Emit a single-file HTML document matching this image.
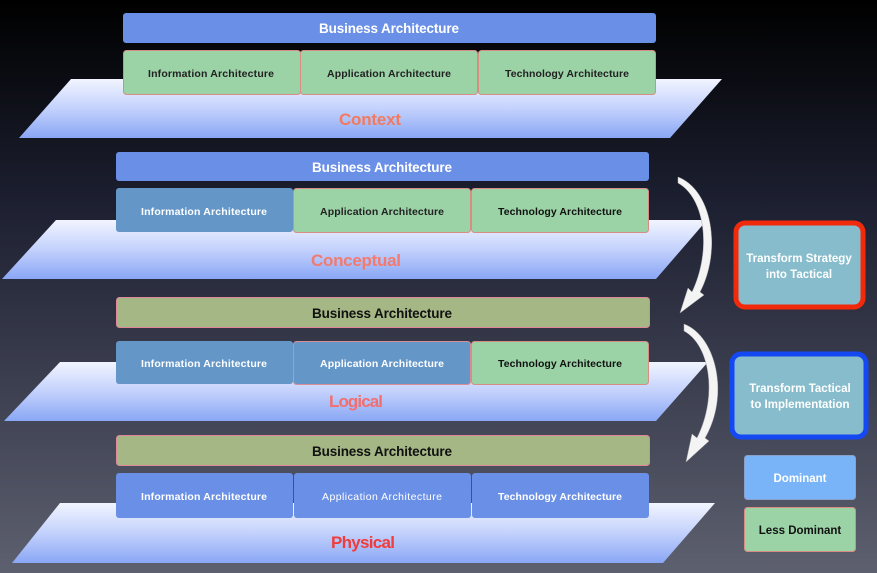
<!DOCTYPE html>
<html><head><meta charset="utf-8"><style>
html,body{margin:0;padding:0;width:877px;height:573px;overflow:hidden}
svg{display:block}
text{font-family:"Liberation Sans",sans-serif;font-weight:bold}
</style></head><body>
<svg width="877" height="573" viewBox="0 0 877 573" xmlns="http://www.w3.org/2000/svg">
<defs>
<linearGradient id="bg" x1="0" y1="0" x2="0" y2="1">
<stop offset="0" stop-color="#000000"/><stop offset="0.35" stop-color="#1c1f30"/><stop offset="1" stop-color="#5d606f"/>
</linearGradient>
<linearGradient id="pl" x1="0" y1="0" x2="0" y2="1">
<stop offset="0" stop-color="#f2f5ff"/><stop offset="0.5" stop-color="#c3d1fc"/><stop offset="1" stop-color="#8aa7f5"/>
</linearGradient>
</defs>
<rect width="877" height="573" fill="url(#bg)"/>

<!-- planes -->
<polygon points="71,79 722,79 670,138 19,138" fill="url(#pl)"/>
<polygon points="56,220 707,220 656,279 2,279" fill="url(#pl)"/>
<polygon points="60,362 708,362 656,421 4,421" fill="url(#pl)"/>
<polygon points="60,503 715,503 663,563 12,563" fill="url(#pl)"/>

<!-- Layer 1 -->
<rect x="123" y="13" width="533" height="30" rx="3" fill="#6a8fe6"/>
<text x="389" y="33" font-size="13.5" fill="#fff" text-anchor="middle" textLength="140">Business Architecture</text>
<rect x="123.5" y="50.5" width="177" height="44" rx="3" fill="#9bd2a6" stroke="#d88d84"/>
<rect x="300.5" y="50.5" width="177" height="44" rx="3" fill="#9bd2a6" stroke="#d88d84"/>
<rect x="478.5" y="50.5" width="177" height="44" rx="3" fill="#9bd2a6" stroke="#d88d84"/>
<text x="211" y="77" font-size="10.5" fill="#222" text-anchor="middle" textLength="126">Information Architecture</text>
<text x="389" y="77" font-size="10.5" fill="#222" text-anchor="middle" textLength="124">Application Architecture</text>
<text x="567" y="77" font-size="10.5" fill="#222" text-anchor="middle" textLength="124">Technology Architecture</text>
<text x="370" y="125" font-size="17" fill="#f27a5e" text-anchor="middle" textLength="62">Context</text>

<!-- Layer 2 -->
<rect x="116" y="152" width="533" height="29" rx="3" fill="#6a8fe6"/>
<text x="382" y="172" font-size="13.5" fill="#fff" text-anchor="middle" textLength="140">Business Architecture</text>
<rect x="116" y="188" width="177" height="44" rx="3" fill="#6497c8"/>
<rect x="293.5" y="188.5" width="177" height="44" rx="3" fill="#9bd2a6" stroke="#d88d84"/>
<rect x="471.5" y="188.5" width="177" height="44" rx="3" fill="#9bd2a6" stroke="#d88d84"/>
<text x="204" y="215" font-size="10.5" fill="#fff" text-anchor="middle" textLength="126">Information Architecture</text>
<text x="382" y="215" font-size="10.5" fill="#222" text-anchor="middle" textLength="124">Application Architecture</text>
<text x="560" y="215" font-size="10.5" fill="#111" text-anchor="middle" textLength="124">Technology Architecture</text>
<text x="356" y="266" font-size="17" fill="#f27a6e" text-anchor="middle" textLength="90">Conceptual</text>

<!-- Layer 3 -->
<rect x="116.5" y="297.5" width="533" height="30" rx="3" fill="#a4b784" stroke="#e0889a"/>
<text x="382" y="318" font-size="13.5" fill="#111" text-anchor="middle" textLength="140">Business Architecture</text>
<rect x="116" y="341" width="177" height="43" rx="3" fill="#6497c8"/>
<rect x="293.5" y="341.5" width="177" height="43" rx="3" fill="#6497c8" stroke="#d88d94"/>
<rect x="471.5" y="341.5" width="177" height="43" rx="3" fill="#9bd2a6" stroke="#d88d84"/>
<text x="204" y="367" font-size="10.5" fill="#fff" text-anchor="middle" textLength="126">Information Architecture</text>
<text x="382" y="367" font-size="10.5" fill="#fff" text-anchor="middle" textLength="124">Application Architecture</text>
<text x="560" y="367" font-size="10.5" fill="#111" text-anchor="middle" textLength="124">Technology Architecture</text>
<text x="356" y="407" font-size="17" fill="#f26f6e" text-anchor="middle" textLength="54">Logical</text>

<!-- Layer 4 -->
<rect x="116.5" y="435.5" width="533" height="30" rx="3" fill="#a4b784" stroke="#e0889a"/>
<text x="382" y="456" font-size="13.5" fill="#111" text-anchor="middle" textLength="140">Business Architecture</text>
<rect x="116" y="473" width="177" height="45" rx="3" fill="#6a8fe6"/>
<rect x="294" y="473" width="177" height="45" rx="3" fill="#6a8fe6"/>
<rect x="472" y="473" width="177" height="45" rx="3" fill="#6a8fe6"/>
<text x="204" y="500" font-size="10.5" fill="#fff" text-anchor="middle" textLength="126">Information Architecture</text>
<text x="382" y="500" font-size="10.5" font-weight="normal" style="font-weight:normal" fill="#fff" text-anchor="middle" textLength="120">Application Architecture</text>
<text x="560" y="500" font-size="10.5" fill="#fff" text-anchor="middle" textLength="124">Technology Architecture</text>
<text x="363" y="548" font-size="17" fill="#f03c3c" text-anchor="middle" textLength="64">Physical</text>

<!-- arrows -->
<path d="M678,177 C712,190 722,250 700,292 L704,295 L680,313 L688,288 L692,292 C712,250 705,198 678,183 Z" fill="#f4f4f4" stroke="#aaa" stroke-width="0.5"/>
<path d="M684,324 C716,336 730,395 705,438 L709,441 L686,462 L692,434 L697,438 C718,396 710,345 684,331 Z" fill="#f4f4f4" stroke="#aaa" stroke-width="0.5"/>

<!-- right boxes -->
<rect x="736" y="223" width="127" height="84" rx="9" fill="#86bccb" stroke="#f22a0c" stroke-width="5"/>
<text x="799" y="262" font-size="11.5" fill="#fff" text-anchor="middle">Transform Strategy</text>
<text x="799" y="278" font-size="11.5" fill="#fff" text-anchor="middle">into Tactical</text>
<rect x="732" y="354" width="134" height="83" rx="9" fill="#86bccb" stroke="#1448f2" stroke-width="5"/>
<text x="800" y="392" font-size="11.5" fill="#fff" text-anchor="middle">Transform Tactical</text>
<text x="800" y="408" font-size="11.5" fill="#fff" text-anchor="middle">to Implementation</text>
<rect x="744.5" y="455.5" width="111" height="44" rx="3" fill="#7ab4f8" stroke="#8aa0c8"/>
<text x="800" y="482" font-size="11.5" fill="#fff" text-anchor="middle">Dominant</text>
<rect x="744.5" y="507.5" width="111" height="44" rx="3" fill="#9bd2a6" stroke="#d88d84"/>
<text x="800" y="534" font-size="11.5" fill="#111" text-anchor="middle">Less Dominant</text>
</svg>
</body></html>
